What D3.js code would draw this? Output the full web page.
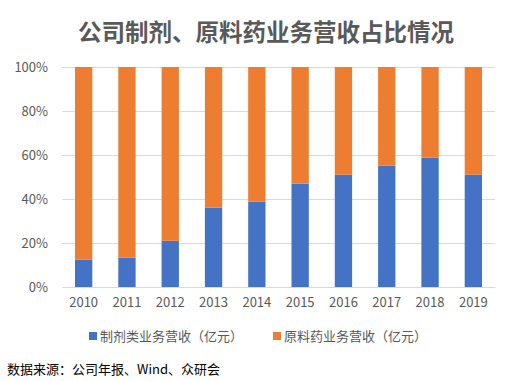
<!DOCTYPE html>
<html><head><meta charset="utf-8">
<script src="https://cdn.jsdelivr.net/npm/d3@7"></script>
<style>body{margin:0;background:#fff;}svg{display:block;}</style>
</head><body>
<svg id="c" width="508" height="381"></svg>
<script>
const title = "公司制剂、原料药业务营收占比情况";
const years = ["2010","2011","2012","2013","2014","2015","2016","2017","2018","2019"];
const prepShare = [12.4, 13.3, 21.0, 36.0, 38.8, 47.0, 51.0, 55.1, 58.8, 51.0];
const apiShare = [87.6, 86.7, 79.0, 64.0, 61.2, 53.0, 49.0, 44.9, 41.2, 49.0];
const seriesNames = ["制剂类业务营收（亿元）", "原料药业务营收（亿元）"];
const colors = ["#4472C4", "#ED7D31"];
const yTicks = [0, 20, 40, 60, 80, 100];
const source = "数据来源：公司年报、Wind、众研会";

(function () {
const font = "'Microsoft YaHei','Noto Sans CJK SC',sans-serif";
const svg = d3.select("#c");
const mLeft = 62, mRight = 495, mTop = 67, mBottom = 287;

svg.append("text").attr("x", 266).attr("y", 41).attr("text-anchor", "middle")
  .attr("font-family", font).attr("font-weight", "bold").attr("font-size", 23.5)
  .attr("fill", "#595959").text(title);

const x = d3.scaleBand().domain(years).range([mLeft, mRight]).paddingInner(0.6).paddingOuter(0.3);
const y = d3.scaleLinear().domain([0, 100]).range([mBottom, mTop]);

const yAxis = svg.append("g").attr("transform", `translate(${mLeft},0)`)
  .call(d3.axisLeft(y).tickValues(yTicks).tickFormat(d => d + "%").tickSize(-(mRight - mLeft)));
yAxis.select(".domain").remove();
yAxis.selectAll("line").attr("stroke", "#d9d9d9").attr("stroke-width", 1);
yAxis.selectAll("text").attr("x", -14).attr("font-family", font).attr("font-size", 13).attr("fill", "#595959");

const data = years.map((yr, i) => ({year: yr, prep: prepShare[i], api: apiShare[i]}));
const stack = d3.stack().keys(["prep", "api"])(data);
svg.append("g").selectAll("g").data(stack).join("g").attr("fill", (d, i) => colors[i])
  .selectAll("rect").data(d => d).join("rect")
  .attr("x", d => x(d.data.year)).attr("width", x.bandwidth())
  .attr("y", d => y(d[1])).attr("height", d => y(d[0]) - y(d[1]));

const xAxis = svg.append("g").attr("transform", `translate(0,${mBottom})`)
  .call(d3.axisBottom(x).tickSize(0).tickPadding(11));
xAxis.select(".domain").attr("stroke", "#d9d9d9");
xAxis.selectAll("text").attr("font-family", font).attr("font-size", 13).attr("fill", "#595959");

const legX = [89, 273];
seriesNames.forEach((n, i) => {
  svg.append("rect").attr("x", legX[i]).attr("y", 332).attr("width", 8).attr("height", 8).attr("fill", colors[i]);
  svg.append("text").attr("x", legX[i] + 11).attr("y", 341).attr("font-family", font)
    .attr("font-size", 13).attr("fill", "#595959").text(n);
});

svg.append("text").attr("x", 7).attr("y", 374).attr("font-family", font)
  .attr("font-size", 13).attr("fill", "#000").text(source);
})();
</script>
</body></html>
